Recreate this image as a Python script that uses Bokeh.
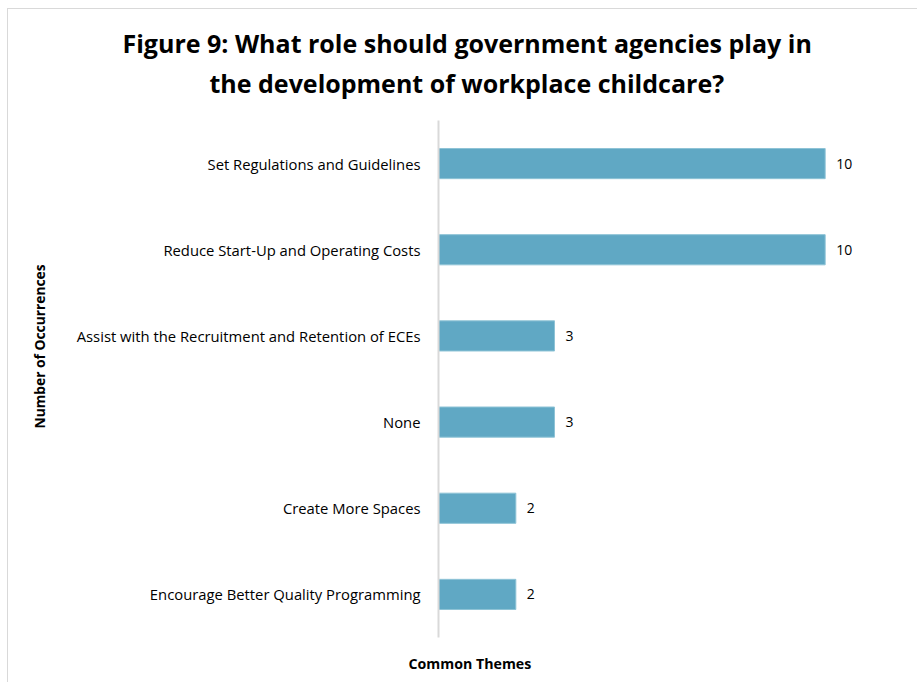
from bokeh.plotting import figure
from bokeh.models import Title, FactorRange, Range1d, ColumnDataSource
from bokeh.core.properties import value
from bokeh.embed import file_html
from bokeh.resources import INLINE

themes = [
    "Set Regulations and Guidelines",
    "Reduce Start-Up and Operating Costs",
    "Assist with the Recruitment and Retention of ECEs",
    "None",
    "Create More Spaces",
    "Encourage Better Quality Programming",
]
counts = [10, 10, 3, 3, 2, 2]
value_labels = [str(c) for c in counts]

FONT = "Open Sans"

src = ColumnDataSource(dict(theme=themes, count=counts, lab=value_labels))

p = figure(
    width=910, height=674,
    y_range=FactorRange(factors=list(reversed(themes)), range_padding=0),
    x_range=Range1d(0, 12),
    output_backend="svg", toolbar_location=None,
    min_border_left=430, min_border_right=16, min_border_top=111, min_border_bottom=46,
)

p.hbar(y="theme", right="count", left=0, height=0.35, source=src,
       fill_color="#60A8C4", line_color="#8ec3d6", line_width=1)
p.text(x="count", y="theme", text="lab", source=src, x_offset=11,
       text_baseline="middle", text_align="left", text_font_size="14px",
       text_color="#000000", text_font=value(FONT))

p.xaxis.visible = False
p.xgrid.grid_line_color = None
p.ygrid.grid_line_color = None
p.outline_line_color = None

ax = p.yaxis[0]
ax.axis_line_color = "#d9d9d9"
ax.axis_line_width = 2
ax.major_tick_line_color = None
ax.minor_tick_line_color = None
ax.major_label_standoff = 12
ax.major_label_text_font = FONT
ax.major_label_text_font_size = "14.8px"
ax.major_label_text_color = "#000000"

# titles stacked: first added is closest to frame
p.add_layout(Title(text=" ", text_font_size="8px", standoff=10), "above")
p.add_layout(Title(text="the development of workplace childcare?", align="left", offset=-229,
                   standoff=-1, text_font=FONT, text_font_size="25px", text_font_style="bold",
                   text_color="#000000"), "above")
p.add_layout(Title(text="Figure 9: What role should government agencies play in", align="left",
                   offset=-316, text_font=FONT, text_font_size="25px", text_font_style="bold",
                   text_color="#000000"), "above")

p.add_layout(Title(text=" ", text_font_size="1px", standoff=6), "below")
p.add_layout(Title(text="Common Themes", align="left", offset=-30,
                   text_font=FONT, text_font_size="14.2px", text_font_style="bold",
                   text_color="#000000"), "below")

p.add_layout(Title(text=" ", text_font_size="4px", standoff=13), "left")
p.add_layout(Title(text="Number of Occurrences", align="left", offset=209,
                   text_font=FONT, text_font_size="13.8px", text_font_style="bold",
                   text_color="#000000"), "left")

p.styles = {"margin-left": "7px", "margin-top": "8px",
            "border-top": "1px solid #d9d9d9", "border-left": "1px solid #d9d9d9"}

open("out.html", "w").write(file_html(p, INLINE))
